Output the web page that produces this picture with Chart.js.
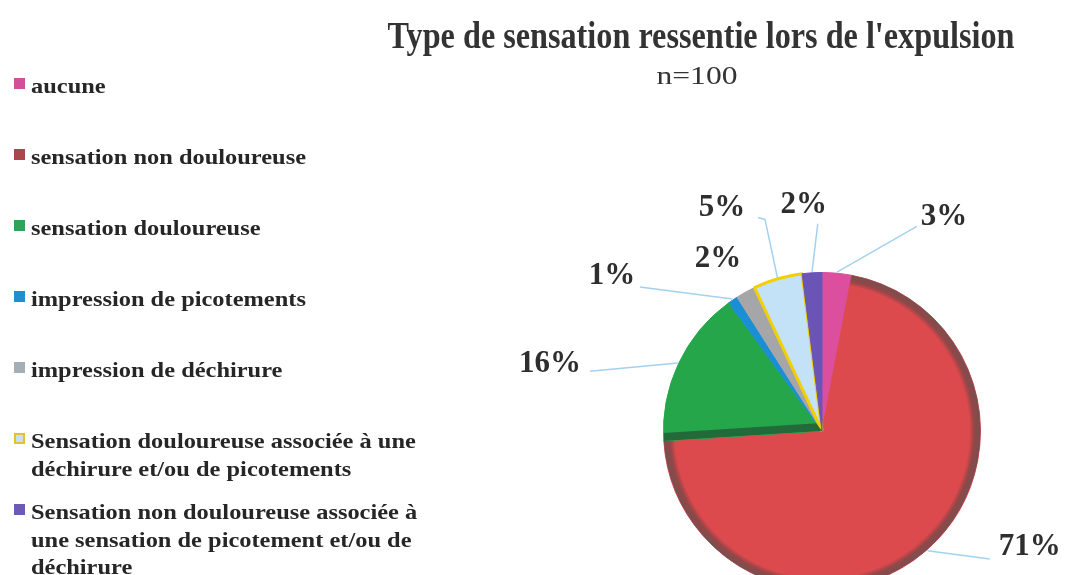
<!DOCTYPE html>
<html><head><meta charset="utf-8">
<script src="https://cdn.jsdelivr.net/npm/chart.js@4.4.0/dist/chart.umd.min.js"></script>
<style>html,body{margin:0;padding:0;background:#fff;overflow:hidden;width:1066px;height:575px}canvas{display:block}</style>
</head><body>
<canvas id="c" width="1066" height="620"></canvas>
<script>
// ---- data ----
const titleText = "Type de sensation ressentie lors de l'expulsion";
const subtitleText = "n=100";
const categories = [
  "aucune",
  "sensation non douloureuse",
  "sensation douloureuse",
  "impression de picotements",
  "impression de déchirure",
  "Sensation douloureuse associée à une\ndéchirure et/ou de picotements",
  "Sensation non douloureuse associée à\nune sensation de picotement et/ou de\ndéchirure"
];
const values = [3, 71, 16, 1, 2, 5, 2];
const valueLabels = ["3%", "71%", "16%", "1%", "2%", "5%", "2%"];

// ---- styles ----
const sliceColors  = ['#dc4f9f', '#dc4a4e', '#25a64b', '#1b8fd6', '#a6a6a8', '#c3e1f7', '#6a55b6'];
const sliceBorders = ['#dc4f9f', '#dc4a4e', '#25a64b', '#1b8fd6', '#a6a6a8', '#f2d000', '#6a55b6'];
const sliceBorderW = [1, 1, 1, 1, 1, 3, 1];
const legendColors = ['#d2509a', '#a8484c', '#2ea35a', '#1f8fd2', '#a5adb5', '#c3e1f7', '#6c5ab5'];
const legendBorders = [null, null, null, null, null, '#e6c030', null];
const rimSlice = 1;      // slice with dark 3D rim
const bandSlice = 2;     // slice with dark band on its lower edge
// label placement: angle (deg clockwise from top), distance from centre, leader end offset, optional elbow
const labelLayout = [
  {a: 29.7, d: 246, end: [-27, 9]},
  {a: 119.2, d: 238, end: [-40, 12]},
  {a: 283.8, d: 280, end: [40, 7]},
  {a: 306.4, d: 261, end: [28, 11]},
  {a: 328.8, d: 201, end: null},
  {a: 335.8, d: 244, end: [36, 9], elbow: [43, 11]},
  {a: 355.4, d: 227, end: [14, 19]}
];

const deco = {
  id: 'deco',
  afterDatasetsDraw(chart) {
    const ctx = chart.ctx;
    const meta = chart.getDatasetMeta(0);
    // 3D rim on the big slice
    {
      const el = meta.data[rimSlice];
      const r = el.outerRadius;
      ctx.save();
      ctx.beginPath();
      ctx.arc(el.x, el.y, r, el.startAngle, el.endAngle);
      ctx.arc(el.x, el.y, r - 11, el.endAngle, el.startAngle, true);
      ctx.closePath();
      const g = ctx.createRadialGradient(el.x, el.y, r - 11, el.x, el.y, r);
      g.addColorStop(0, 'rgba(120,60,60,0)');
      g.addColorStop(0.45, 'rgba(120,70,70,0.75)');
      g.addColorStop(1, 'rgba(115,80,80,0.95)');
      ctx.fillStyle = g;
      ctx.fill();
      ctx.restore();
    }
    // dark band on green slice's lower edge
    {
      const el = meta.data[bandSlice];
      ctx.save();
      ctx.beginPath();
      ctx.moveTo(el.x, el.y);
      ctx.arc(el.x, el.y, el.outerRadius, el.startAngle, el.endAngle);
      ctx.closePath();
      ctx.clip();
      ctx.strokeStyle = 'rgba(35,95,55,0.85)';
      ctx.lineWidth = 8;
      const a = el.startAngle;
      const nx = Math.cos(a + Math.PI / 2) * 4, ny = Math.sin(a + Math.PI / 2) * 4;
      ctx.beginPath();
      ctx.moveTo(el.x + nx, el.y + ny);
      ctx.lineTo(el.x + nx + Math.cos(a) * el.outerRadius, el.y + ny + Math.sin(a) * el.outerRadius);
      ctx.stroke();
      ctx.restore();
    }
    // leaders and value labels
    meta.data.forEach((el, i) => {
      const L = labelLayout[i];
      const cx = el.x, cy = el.y;
      const ang = (L.a - 90) * Math.PI / 180;
      const lx = cx + L.d * Math.cos(ang), ly = cy + L.d * Math.sin(ang);
      if (L.end) {
        const mid = (el.startAngle + el.endAngle) / 2;
        const sx = cx + (el.outerRadius + 1) * Math.cos(mid);
        const sy = cy + (el.outerRadius + 1) * Math.sin(mid);
        ctx.save();
        ctx.strokeStyle = '#a3d2f0';
        ctx.lineWidth = 1.5;
        ctx.beginPath();
        ctx.moveTo(sx, sy);
        if (L.elbow) ctx.lineTo(lx + L.elbow[0], ly + L.elbow[1]);
        ctx.lineTo(lx + L.end[0], ly + L.end[1]);
        ctx.stroke();
        ctx.restore();
      }
      ctx.save();
      ctx.font = 'bold 31px "Liberation Serif"';
      ctx.fillStyle = '#2e2e2e';
      ctx.textAlign = 'center';
      ctx.textBaseline = 'middle';
      ctx.fillText(valueLabels[i], lx, ly);
      ctx.restore();
    });
    // title
    ctx.save();
    ctx.font = 'bold 38px "Liberation Serif"';
    ctx.fillStyle = '#333333';
    ctx.textAlign = 'center';
    ctx.textBaseline = 'alphabetic';
    let w = ctx.measureText(titleText).width;
    ctx.translate(701, 48);
    ctx.scale(627 / w, 1);
    ctx.fillText(titleText, 0, 0);
    ctx.restore();
    ctx.save();
    ctx.font = '26px "Liberation Serif"';
    ctx.fillStyle = '#333333';
    ctx.textAlign = 'center';
    w = ctx.measureText(subtitleText).width;
    ctx.translate(697, 84);
    ctx.scale(81 / w, 1);
    ctx.fillText(subtitleText, 0, 0);
    ctx.restore();
    // legend
    ctx.save();
    ctx.font = 'bold 22px "Liberation Serif"';
    const lsx = 275 / ctx.measureText(categories[1]).width;
    categories.forEach((cat, i) => {
      const base = 93 + 71 * i;
      ctx.fillStyle = legendColors[i];
      ctx.fillRect(14, base - 15, 11, 11);
      if (legendBorders[i]) {
        ctx.strokeStyle = legendBorders[i];
        ctx.lineWidth = 2;
        ctx.strokeRect(15, base - 14, 9, 9);
      }
      ctx.fillStyle = '#262626';
      cat.split('\n').forEach((line, j) => {
        ctx.save();
        ctx.translate(31, base + j * 27.5);
        ctx.scale(lsx, 1);
        ctx.fillText(line, 0, 0);
        ctx.restore();
      });
    });
    ctx.restore();
  }
};

new Chart(document.getElementById('c'), {
  type: 'pie',
  data: {
    labels: categories,
    datasets: [{
      data: values,
      backgroundColor: sliceColors,
      borderColor: sliceBorders,
      borderWidth: sliceBorderW
    }]
  },
  options: {
    responsive: false,
    animation: false,
    layout: {padding: {left: 662, right: 84, top: 270, bottom: 28}},
    plugins: {legend: {display: false}, tooltip: {enabled: false}, title: {display: false}}
  },
  plugins: [deco]
});
</script>
</body></html>
